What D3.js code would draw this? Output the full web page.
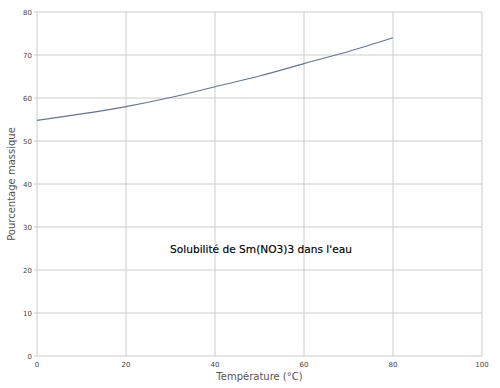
<!DOCTYPE html>
<html lang="fr">
<head>
  <meta charset="UTF-8">
  <title>Solubilité de Sm(NO3)3</title>
  <script src="https://d3js.org/d3.v7.min.js"></script>
  <style>
    body { margin: 0; background: #fff; }
    text { font-family: "DejaVu Sans", sans-serif; }
  </style>
</head>
<body>
  <script>
    // données
    let temperatures = [0, 10, 20, 30, 40, 50, 60, 70, 80]
    let pourcentages = [54.8, 56.3, 58.0, 60.1, 62.6, 65.1, 68.0, 70.8, 74.0]
    let xTicks = [0, 20, 40, 60, 80, 100]
    let yTicks = [0, 10, 20, 30, 40, 50, 60, 70, 80]

    let width = 500, height = 388
    let margin = { left: 37, right: 18, top: 12, bottom: 32 }

    let svg = d3.select('body')
      .append('svg')
      .attr('width', width)
      .attr('height', height)

    let x = d3.scaleLinear().domain([0, 100]).range([margin.left, width - margin.right])
    let y = d3.scaleLinear().domain([0, 80]).range([height - margin.bottom, margin.top])

    // grille
    svg.append('g')
      .selectAll('line')
      .data(xTicks)
      .enter()
      .append('line')
      .attr('x1', d => x(d)).attr('x2', d => x(d))
      .attr('y1', y(80)).attr('y2', y(0))
      .style('stroke', '#cccccc')
      .style('stroke-width', 1)

    svg.append('g')
      .selectAll('line')
      .data(yTicks)
      .enter()
      .append('line')
      .attr('x1', x(0) - 3).attr('x2', x(100))
      .attr('y1', d => y(d)).attr('y2', d => y(d))
      .style('stroke', '#cccccc')
      .style('stroke-width', 1)

    // libellés des axes
    svg.append('g')
      .selectAll('text')
      .data(xTicks)
      .enter()
      .append('text')
      .attr('x', d => x(d))
      .attr('y', y(0) + 11)
      .attr('text-anchor', 'middle')
      .style('font-size', '7px')
      .style('fill', '#444')
      .text(d => d)

    svg.append('g')
      .selectAll('text')
      .data(yTicks)
      .enter()
      .append('text')
      .attr('x', x(0) - 5)
      .attr('y', d => y(d) + 2.5)
      .attr('text-anchor', 'end')
      .style('font-size', '7px')
      .style('fill', '#444')
      .text(d => d)

    // courbe
    let line = d3.line()
      .x((d, i) => x(temperatures[i]))
      .y(d => y(d))
      .curve(d3.curveMonotoneX)

    svg.append('path')
      .datum(pourcentages)
      .attr('d', line)
      .style('fill', 'none')
      .style('stroke', '#5f7599')
      .style('stroke-width', 1.1)

    // titres
    svg.append('text')
      .attr('x', (x(0) + x(100)) / 2)
      .attr('y', height - 8)
      .attr('text-anchor', 'middle')
      .style('font-size', '10px')
      .style('fill', '#555')
      .text('Température (°C)')

    svg.append('text')
      .attr('transform', 'translate(15,' + (y(40)) + ') rotate(-90)')
      .attr('text-anchor', 'middle')
      .style('font-size', '10px')
      .style('fill', '#555')
      .text('Pourcentage massique')

    svg.append('text')
      .attr('x', 261)
      .attr('y', 253)
      .attr('text-anchor', 'middle')
      .style('font-size', '10.6px')
      .style('font-weight', 500)
      .style('fill', '#000')
      .style('stroke', '#000')
      .style('stroke-width', 0.15)
      .text("Solubilité de Sm(NO3)3 dans l'eau")
  </script>
</body>
</html>
